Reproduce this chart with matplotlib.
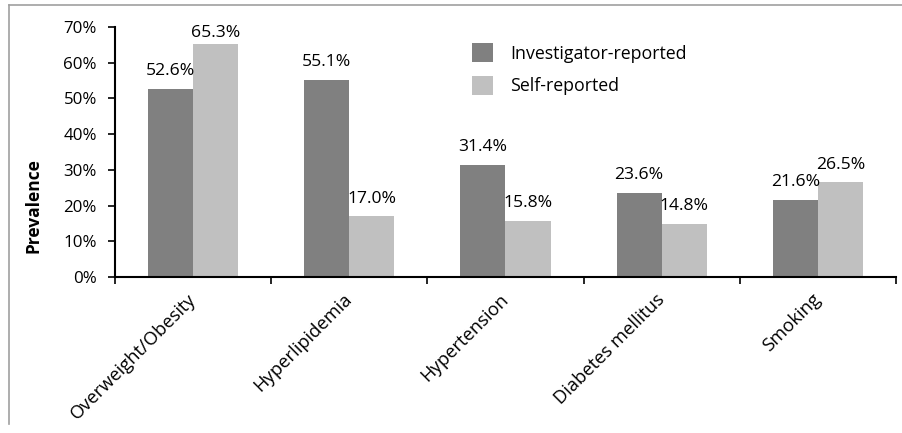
import matplotlib.pyplot as plt
import numpy as np
from matplotlib.lines import Line2D

# prevalence of cardiovascular risk factors, investigator vs self reported
categories = ['Overweight/Obesity', 'Hyperlipidemia', 'Hypertension',
              'Diabetes mellitus', 'Smoking']
investigator = [52.6, 55.1, 31.4, 23.6, 21.6]
self_reported = [65.3, 17.0, 15.8, 14.8, 26.5]
yticks = [0, 10, 20, 30, 40, 50, 60, 70]

plt.rcParams['font.family'] = ['Open Sans', 'DejaVu Sans']

fig = plt.figure(figsize=(9.03, 4.33), dpi=100)
ax = fig.add_axes([0.1274, 0.3603, 0.8648, 0.5774])

# frame around the chart (only top and left edges are inside the picture)
fig.add_artist(Line2D([0.010, 1.0], [0.988, 0.988], transform=fig.transFigure,
                      color='#a0a0a0', lw=1.2))
fig.add_artist(Line2D([0.010, 0.010], [0.988, 0.02], transform=fig.transFigure,
                      color='#a0a0a0', lw=1.2))

x = np.arange(len(categories))
w = 0.289
b1 = ax.bar(x - w / 2, investigator, w, color='#808080', label='Investigator-reported')
b2 = ax.bar(x + w / 2, self_reported, w, color='#c0c0c0', label='Self-reported')

for bars, vals in [(b1, investigator), (b2, self_reported)]:
    for rect, v in zip(bars, vals):
        cx = rect.get_x() + rect.get_width() / 2
        if v > 62:
            # label kept inside plot area
            ax.annotate('%.1f%%' % v, (cx, 70), xytext=(0, 1.5), textcoords='offset points',
                        ha='center', va='top', fontsize=12.6)
        else:
            ax.annotate('%.1f%%' % v, (cx, v), xytext=(0, 7), textcoords='offset points',
                        ha='center', va='bottom', fontsize=12.6)

ax.set_xlim(-0.5, len(categories) - 0.5)
ax.set_ylim(0, 70)
ax.set_yticks(yticks)
ax.set_yticklabels(['%d%%' % t for t in yticks], fontsize=12.2)

# category boundaries as ticks, names in between
ax.set_xticks(np.arange(len(categories) + 1) - 0.5)
ax.set_xticklabels([])
ax.set_xticks(x, minor=True)
ax.set_xticklabels(categories, minor=True, rotation=45, ha='right', va='center',
                   rotation_mode='anchor', fontsize=13.2)
ax.tick_params(axis='x', which='minor', length=0, pad=14)
ax.tick_params(axis='x', which='major', length=5, width=1.2)
ax.tick_params(axis='y', length=5, width=1.2, pad=8)

for s in ['top', 'right']:
    ax.spines[s].set_visible(False)
for s in ['left', 'bottom']:
    ax.spines[s].set_linewidth(1.5)

ax.set_ylabel('Prevalence', fontsize=12.5, fontweight='bold')
ax.yaxis.set_label_coords(-0.093, 0.284)

ax.legend(loc='upper left', bbox_to_anchor=(0.4565, 0.935), frameon=False,
          fontsize=12.8, handlelength=1.2, handleheight=1.25, handletextpad=0.95,
          labelspacing=0.75, borderpad=0, borderaxespad=0)

fig.savefig('out.png', dpi=100)
